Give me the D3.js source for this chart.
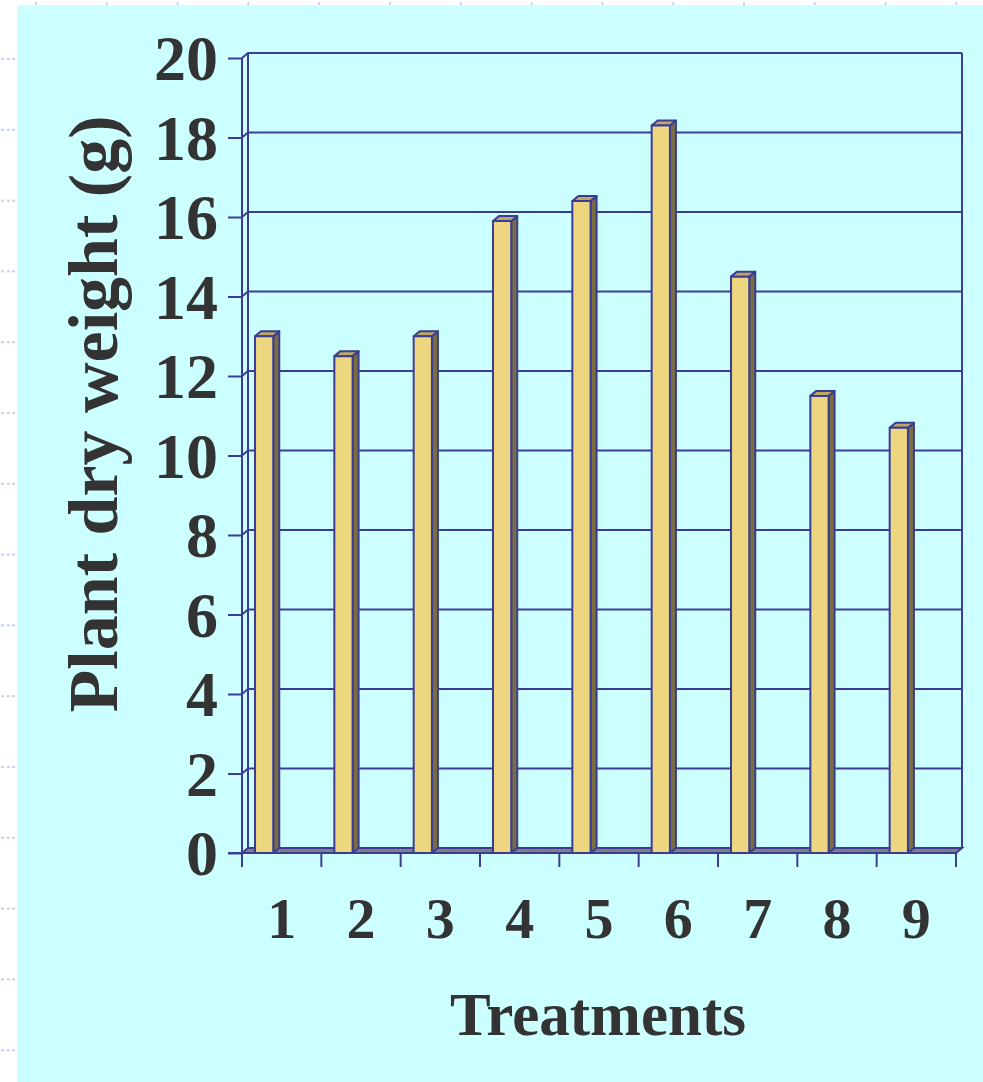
<!DOCTYPE html>
<html>
<head>
<meta charset="utf-8">
<script src="https://cdn.jsdelivr.net/npm/d3@7"></script>
<style>
  html, body { margin: 0; padding: 0; background: #fff; }
  svg { display: block; }
</style>
</head>
<body>
<div id="chart"></div>
<script>
// Treatment categories and plant dry weight (g) per treatment
const treatments = ["1", "2", "3", "4", "5", "6", "7", "8", "9"];
const dryWeight = [13.0, 12.5, 13.0, 15.9, 16.4, 18.3, 14.5, 11.5, 10.7];
const yTicks = [0, 2, 4, 6, 8, 10, 12, 14, 16, 18, 20];

const width = 983, height = 1082;
const depthX = 6, depthY = -5;   // 3D depth offset of the walls and bars
const ink = "#3c3c96";           // axis / grid navy
const textCol = "#333333";

const svg = d3.select("#chart").append("svg")
  .attr("width", width)
  .attr("height", height);

// slide background
svg.append("rect")
  .attr("x", 17).attr("y", 5)
  .attr("width", width - 17).attr("height", height - 5)
  .attr("fill", "#ccffff");

// little guide marks in the white margins
const guide = svg.append("g").attr("fill", "#c9d2f2");
d3.range(0, 15).forEach(i => {
  const y = 59 + i * 70.8;
  [1, 7, 12].forEach(x => guide.append("rect").attr("x", x).attr("y", y - 1).attr("width", 3).attr("height", 2));
});
d3.range(0, 14).forEach(i => {
  guide.append("rect").attr("x", 35 + i * 70.8).attr("y", 2).attr("width", 2).attr("height", 3);
});

const x = d3.scaleBand()
  .domain(treatments)
  .range([242, 956])
  .padding(0);

const y = d3.scaleLinear()
  .domain([0, 20])
  .range([853, 58]);

const x0 = x.range()[0], x1 = x.range()[1];
const yBase = y(0);

// floor
svg.append("path")
  .attr("d", `M${x0},${yBase}L${x1},${yBase}L${x1 + depthX},${yBase + depthY}L${x0 + depthX},${yBase + depthY}Z`)
  .attr("fill", "#808080")
  .attr("stroke", ink)
  .attr("stroke-width", 2);

// back wall gridlines + side wall diagonals
const grid = svg.append("g")
  .attr("fill", "none")
  .attr("stroke", ink)
  .attr("stroke-width", 2);

grid.selectAll("path.grid")
  .data(yTicks.filter(d => d > 0))
  .join("path")
  .attr("class", "grid")
  .attr("d", d => `M${x0},${y(d)}L${x0 + depthX},${y(d) + depthY}L${x1 + depthX},${y(d) + depthY}`);

// back wall verticals
grid.append("line")
  .attr("x1", x0 + depthX).attr("x2", x0 + depthX)
  .attr("y1", y(20) + depthY).attr("y2", yBase + depthY);
grid.append("line")
  .attr("x1", x1 + depthX).attr("x2", x1 + depthX)
  .attr("y1", y(20) + depthY).attr("y2", yBase + depthY);

// bars (front face, side, top)
const bw = x.bandwidth() * 0.23;
const boff = x.bandwidth() * 0.164;
const bars = svg.append("g")
  .selectAll("g")
  .data(treatments.map((t, i) => ({ t, v: dryWeight[i] })))
  .join("g")
  .attr("stroke", ink)
  .attr("stroke-width", 2)
  .attr("stroke-linejoin", "round");

bars.append("path")
  .attr("fill", "#7a6f3c")
  .attr("d", d => {
    const bx = x(d.t) + boff + bw, top = y(d.v);
    return `M${bx},${top}L${bx + depthX},${top + depthY}L${bx + depthX},${yBase + depthY}L${bx},${yBase}Z`;
  });

bars.append("path")
  .attr("fill", "#bda763")
  .attr("d", d => {
    const bx = x(d.t) + boff, top = y(d.v);
    return `M${bx},${top}L${bx + depthX},${top + depthY}L${bx + bw + depthX},${top + depthY}L${bx + bw},${top}Z`;
  });

bars.append("rect")
  .attr("fill", "#ecd680")
  .attr("x", d => x(d.t) + boff)
  .attr("y", d => y(d.v))
  .attr("width", bw)
  .attr("height", d => yBase - y(d.v));

// y axis (front)
const yAxis = svg.append("g")
  .attr("transform", `translate(${x0},0)`)
  .call(d3.axisLeft(y).tickValues(yTicks).tickSize(14).tickFormat(d3.format("d")));

// x axis (front)
const xAxis = svg.append("g")
  .attr("transform", `translate(0,${yBase})`)
  .call(d3.axisBottom(x).tickSize(0).tickPadding(0));

// x tick marks at band edges
svg.append("g")
  .attr("stroke", ink)
  .attr("stroke-width", 2)
  .selectAll("line")
  .data(d3.range(treatments.length + 1))
  .join("line")
  .attr("x1", i => x0 + i * x.step())
  .attr("x2", i => x0 + i * x.step())
  .attr("y1", yBase)
  .attr("y2", yBase + 14);

[yAxis, xAxis].forEach(g => {
  g.select(".domain").remove();
  g.selectAll(".tick line").attr("stroke", ink).attr("stroke-width", 2);
  g.selectAll(".tick text")
    .attr("fill", textCol)
    .style("font-family", "'Liberation Serif', 'Times New Roman', serif")
    .style("font-weight", "bold");
});

// front axis lines
svg.append("line")
  .attr("x1", x0).attr("x2", x0)
  .attr("y1", y(20)).attr("y2", yBase)
  .attr("stroke", ink).attr("stroke-width", 2);
svg.append("line")
  .attr("x1", x0 - 14).attr("x2", x1)
  .attr("y1", yBase).attr("y2", yBase)
  .attr("stroke", ink).attr("stroke-width", 2);

yAxis.selectAll(".tick text")
  .attr("x", -24)
  .attr("dy", "0.34em")
  .style("font-size", "64px");

xAxis.selectAll(".tick text")
  .attr("y", 85)
  .attr("dy", 0)
  .style("font-size", "58px");

// axis titles
svg.append("text")
  .attr("transform", "translate(117,414) rotate(-90)")
  .attr("text-anchor", "middle")
  .attr("fill", textCol)
  .style("font", "bold 70px 'Liberation Serif', 'Times New Roman', serif")
  .text("Plant dry weight (g)");

svg.append("text")
  .attr("x", 598)
  .attr("y", 1035)
  .attr("text-anchor", "middle")
  .attr("fill", textCol)
  .style("font", "bold 61px 'Liberation Serif', 'Times New Roman', serif")
  .text("Treatments");
</script>
</body>
</html>
